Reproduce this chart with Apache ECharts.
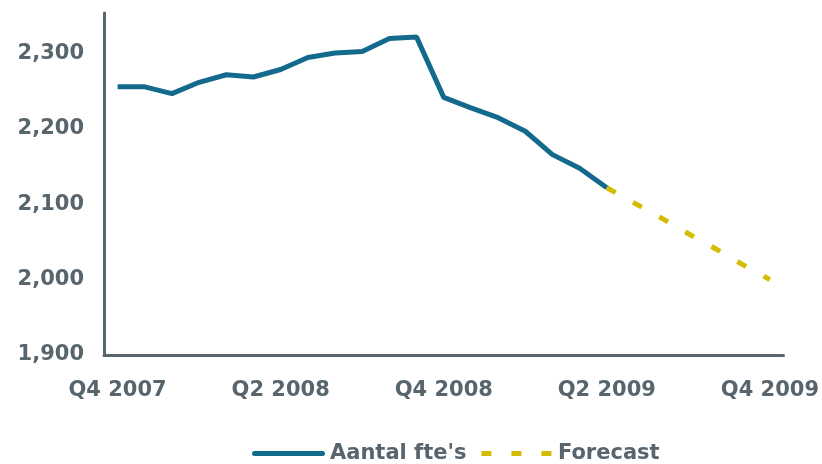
<!DOCTYPE html>
<html>
<head>
<meta charset="utf-8">
<script src="https://cdn.jsdelivr.net/npm/echarts@6/dist/echarts.min.js"></script>
<style>
  html, body { margin: 0; padding: 0; background: #fff; }
  #chart { width: 822px; height: 464px; }
</style>
</head>
<body>
<div id="chart"></div>
<script>
// one category per month, Q4 2007 .. Q4 2009
const tickLabels = ['Q4 2007', 'Q2 2008', 'Q4 2008', 'Q2 2009', 'Q4 2009']
const monthCount = 25
const categories = []
for (let i = 0; i < monthCount; i++) {
  categories.push(i % 6 === 0 ? tickLabels[i / 6] : '')
}

const fteValues = [2256, 2256, 2247, 2262, 2272, 2269, 2279, 2295, 2301, 2303, 2320, 2322,
  2242, 2228, 2215, 2197, 2166, 2148, 2122]
const forecastValues = [null, null, null, null, null, null, null, null, null, null, null, null,
  null, null, null, null, null, null, 2122, 2102, 2082, 2061, 2041, 2020, 2000]

const textColor = '#58656d'
const axisColor = '#58666e'
const font = 'DejaVu Sans'
const fteColor = '#136a8c'
const forecastColor = '#d4bd00'

const chart = echarts.init(document.getElementById('chart'))

const option = {
  animation: false,
  grid: {
    left: 104,
    right: 38,
    top: 13,
    bottom: 109
  },
  legend: {
    bottom: -5,
    left: 247,
    itemWidth: 73,
    itemHeight: 5,
    itemGap: 15,
    textStyle: {
      color: textColor,
      fontFamily: font,
      fontWeight: 'bold',
      fontSize: 21
    },
    data: [
      {
        name: "Aantal fte's",
        icon: 'path://M2.5,0h68a2.5,2.5 0 0 1 0,5h-68a2.5,2.5 0 0 1 0,-5z',
        itemStyle: { color: fteColor }
      },
      {
        name: 'Forecast',
        icon: 'path://M0,0h10v5h-10z M30,0h10v5h-10z M60,0h10v5h-10z',
        itemStyle: { color: forecastColor }
      }
    ]
  },
  xAxis: {
    type: 'category',
    data: categories,
    boundaryGap: true,
    axisLine: { lineStyle: { color: axisColor, width: 3 } },
    axisTick: { show: false },
    axisLabel: {
      interval: 0,
      margin: 25,
      color: textColor,
      fontFamily: font,
      fontWeight: 'bold',
      fontSize: 21
    },
    splitLine: { show: false }
  },
  yAxis: {
    type: 'value',
    min: 1900,
    max: 2354,
    interval: 100,
    axisLine: { show: true, lineStyle: { color: axisColor, width: 3 } },
    axisTick: { show: false },
    splitLine: { show: false },
    axisLabel: {
      showMaxLabel: false,
      margin: 20,
      color: textColor,
      fontFamily: font,
      fontWeight: 'bold',
      fontSize: 21,
      formatter: v => v.toLocaleString('en-US')
    }
  },
  series: [
    {
      name: "Aantal fte's",
      type: 'line',
      data: fteValues,
      showSymbol: false,
      symbol: 'none',
      color: fteColor,
      lineStyle: { color: fteColor, width: 5 }
    },
    {
      name: 'Forecast',
      type: 'line',
      data: forecastValues,
      showSymbol: false,
      symbol: 'none',
      color: forecastColor,
      lineStyle: { color: forecastColor, width: 5, type: [10, 20] }
    }
  ]
}

chart.setOption(option)
</script>
</body>
</html>
